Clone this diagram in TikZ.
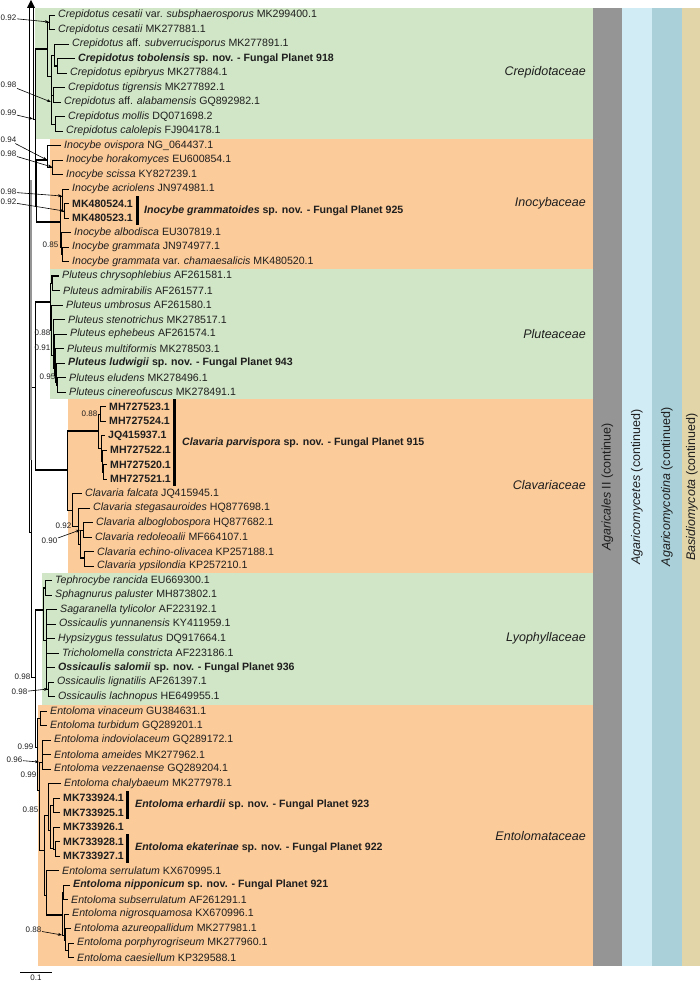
\documentclass[tikz,border=0pt]{standalone}
\usepackage{fontspec}
\setmainfont{Liberation Sans}
\usetikzlibrary{positioning,arrows.meta}
\definecolor{famgreen}{RGB}{209,230,198}
\definecolor{famorange}{RGB}{252,203,154}
\definecolor{ordgray}{RGB}{149,149,149}
\definecolor{clsblue}{RGB}{210,236,246}
\definecolor{subblue}{RGB}{170,209,218}
\definecolor{phytan}{RGB}{226,213,168}
\definecolor{ink}{RGB}{30,30,30}
\tikzset{
  tip/.style={anchor=west,inner xsep=3.5pt,inner ysep=0pt,text=ink,font=\fontsize{10.6}{12}\selectfont},
  newsp/.style={anchor=west,inner sep=0pt,text=ink,font=\fontsize{10.6}{12}\selectfont\bfseries},
  fam/.style={anchor=east,inner sep=0pt,text=ink,font=\fontsize{12.5}{14}\selectfont\itshape},
  rank/.style={rotate=90,inner sep=0pt,text=ink,font=\fontsize{12.5}{14}\selectfont},
  pp/.style={inner sep=0.5pt,text=ink,font=\fontsize{8}{9}\selectfont},
  br/.style={line width=0.6pt},
  bt/.style={line width=2.4pt},
  bg/.style={line width=2.4pt,ordgray},
  pparrow/.style={-{Stealth[length=4pt,width=3pt]},line width=0.6pt},
}

\begin{document}
\begin{tikzpicture}[x=1pt,y=-1pt]
\useasboundingbox (0,0) rectangle (700,982);
% family backgrounds
\fill[famgreen] (35,8) rectangle (593,139);
\fill[famorange] (50,139) rectangle (593,269);
\fill[famgreen] (50,269) rectangle (593,399);
\fill[famorange] (68,399) rectangle (593,573);
\fill[famgreen] (42,573) rectangle (593,705);
\fill[famorange] (38,705) rectangle (593,966);
% rank bars
\fill[ordgray] (593,8) rectangle (622,966);
\fill[clsblue] (622,8) rectangle (652,966);
\fill[subblue] (652,8) rectangle (682,966);
\fill[phytan] (682,8) rectangle (700,966);
\node[rank] (agII) at (607.5,487) {\textit{Agaricales} II (continue)};
\node[rank] (agmy) at (637,487) {\textit{Agaricomycetes} (continued)};
\node[rank] (agmt) at (667,487) {\textit{Agaricomycotina} (continued)};
\node[rank] (basi) at (692,487) {\textit{Basidiomycota} (continued)};
% family names
\node[fam] (fcre) at (586,72) {Crepidotaceae};
\node[fam] (fino) at (586,203) {Inocybaceae};
\node[fam] (fplu) at (586,334) {Pluteaceae};
\node[fam] (fcla) at (586,485) {Clavariaceae};
\node[fam] (flyo) at (586,638) {Lyophyllaceae};
\node[fam] (fent) at (586,836) {Entolomataceae};

% tips
\node[tip] (t0) at (54.5,15) {\textit{Crepidotus cesatii} var. \textit{subsphaerosporus} MK299400.1};
\node[tip] (t1) at (54.5,29.5) {\textit{Crepidotus cesatii} MK277881.1};
\node[tip] (t2) at (68.5,44) {\textit{Crepidotus} aff. \textit{subverrucisporus} MK277891.1};
\node[tip] (t3) at (74.5,58.5) {\textbf{\textit{Crepidotus tobolensis} sp. nov. - Fungal Planet 918}};
\node[tip] (t4) at (66.5,73) {\textit{Crepidotus epibryus} MK277884.1};
\node[tip] (t5) at (64.5,87.5) {\textit{Crepidotus tigrensis} MK277892.1};
\node[tip] (t6) at (60.5,102) {\textit{Crepidotus} aff. \textit{alabamensis} GQ892982.1};
\node[tip] (t7) at (64.5,116.5) {\textit{Crepidotus mollis} DQ071698.2};
\node[tip] (t8) at (62.5,131) {\textit{Crepidotus calolepis} FJ904178.1};
\node[tip] (t9) at (60.5,145.5) {\textit{Inocybe ovispora} NG\_064437.1};
\node[tip] (t10) at (62.5,160) {\textit{Inocybe horakomyces} EU600854.1};
\node[tip] (t11) at (62.5,174.5) {\textit{Inocybe scissa} KY827239.1};
\node[tip] (t12) at (68.5,189) {\textit{Inocybe acriolens} JN974981.1};
\node[tip] (t13) at (68.5,203.5) {\textbf{MK480524.1}};
\node[tip] (t14) at (68.5,218) {\textbf{MK480523.1}};
\node[tip] (t15) at (70.5,232.5) {\textit{Inocybe albodisca} EU307819.1};
\node[tip] (t16) at (68.5,247) {\textit{Inocybe grammata} JN974977.1};
\node[tip] (t17) at (68.5,261.5) {\textit{Inocybe grammata} var. \textit{chamaesalicis} MK480520.1};
\node[tip] (t18) at (58.5,276) {\textit{Pluteus chrysophlebius} AF261581.1};
\node[tip] (t19) at (59.5,290.5) {\textit{Pluteus admirabilis} AF261577.1};
\node[tip] (t20) at (62.5,305) {\textit{Pluteus umbrosus} AF261580.1};
\node[tip] (t21) at (64.5,319.5) {\textit{Pluteus stenotrichus} MK278517.1};
\node[tip] (t22) at (66.5,334) {\textit{Pluteus ephebeus} AF261574.1};
\node[tip] (t23) at (63.5,348.5) {\textit{Pluteus multiformis} MK278503.1};
\node[tip] (t24) at (64.5,363) {\textbf{\textit{Pluteus ludwigii} sp. nov. - Fungal Planet 943}};
\node[tip] (t25) at (65.5,377.5) {\textit{Pluteus eludens} MK278496.1};
\node[tip] (t26) at (65.5,392) {\textit{Pluteus cinereofuscus} MK278491.1};
\node[tip] (t27) at (105.5,406.5) {\textbf{MH727523.1}};
\node[tip] (t28) at (105.5,421) {\textbf{MH727524.1}};
\node[tip] (t29) at (104.5,435.5) {\textbf{JQ415937.1}};
\node[tip] (t30) at (106.5,450) {\textbf{MH727522.1}};
\node[tip] (t31) at (106.5,464.5) {\textbf{MH727520.1}};
\node[tip] (t32) at (106.5,479) {\textbf{MH727521.1}};
\node[tip] (t33) at (81.5,493.5) {\textit{Clavaria falcata} JQ415945.1};
\node[tip] (t34) at (89.5,508) {\textit{Clavaria stegasauroides} HQ877698.1};
\node[tip] (t35) at (92.5,522.5) {\textit{Clavaria alboglobospora} HQ877682.1};
\node[tip] (t36) at (91.5,537) {\textit{Clavaria redoleoalii} MF664107.1};
\node[tip] (t37) at (93.5,551.5) {\textit{Clavaria echino-olivacea} KP257188.1};
\node[tip] (t38) at (93.5,566) {\textit{Clavaria ypsilondia} KP257210.1};
\node[tip] (t39) at (51.5,580.5) {\textit{Tephrocybe rancida} EU669300.1};
\node[tip] (t40) at (51.5,595) {\textit{Sphagnurus paluster} MH873802.1};
\node[tip] (t41) at (56.5,609.5) {\textit{Sagaranella tylicolor} AF223192.1};
\node[tip] (t42) at (55.5,624) {\textit{Ossicaulis yunnanensis} KY411959.1};
\node[tip] (t43) at (54.5,638.5) {\textit{Hypsizygus tessulatus} DQ917664.1};
\node[tip] (t44) at (58.5,653) {\textit{Tricholomella constricta} AF223186.1};
\node[tip] (t45) at (54.5,667.5) {\textbf{\textit{Ossicaulis salomii} sp. nov. - Fungal Planet 936}};
\node[tip] (t46) at (53.5,682) {\textit{Ossicaulis lignatilis} AF261397.1};
\node[tip] (t47) at (54.5,696.5) {\textit{Ossicaulis lachnopus} HE649955.1};
\node[tip] (t48) at (46.5,711) {\textit{Entoloma vinaceum} GU384631.1};
\node[tip] (t49) at (46.5,725.5) {\textit{Entoloma turbidum} GQ289201.1};
\node[tip] (t50) at (50.5,740) {\textit{Entoloma indoviolaceum} GQ289172.1};
\node[tip] (t51) at (50.5,754.5) {\textit{Entoloma ameides} MK277962.1};
\node[tip] (t52) at (50.5,769) {\textit{Entoloma vezzenaense} GQ289204.1};
\node[tip] (t53) at (60.5,783.5) {\textit{Entoloma chalybaeum} MK277978.1};
\node[tip] (t54) at (59.5,798) {\textbf{MK733924.1}};
\node[tip] (t55) at (59.5,812.5) {\textbf{MK733925.1}};
\node[tip] (t56) at (59.5,827) {\textbf{MK733926.1}};
\node[tip] (t57) at (59.5,841.5) {\textbf{MK733928.1}};
\node[tip] (t58) at (59.5,856) {\textbf{MK733927.1}};
\node[tip] (t59) at (58.5,870.5) {\textit{Entoloma serrulatum} KX670995.1};
\node[tip] (t60) at (69.5,885) {\textbf{\textit{Entoloma nipponicum} sp. nov. - Fungal Planet 921}};
\node[tip] (t61) at (67.5,899.5) {\textit{Entoloma subserrulatum} AF261291.1};
\node[tip] (t62) at (68.5,914) {\textit{Entoloma nigrosquamosa} KX670996.1};
\node[tip] (t63) at (70.5,928.5) {\textit{Entoloma azureopallidum} MK277981.1};
\node[tip] (t64) at (73.5,943) {\textit{Entoloma porphyrogriseum} MK277960.1};
\node[tip] (t65) at (73.5,957.5) {\textit{Entoloma caesiellum} KP329588.1};

% new species bars
\draw[line width=3pt] (137,196) -- (137,225);
\node[newsp] (g925) at (144,211) {\textit{Inocybe grammatoides} sp. nov. - Fungal Planet 925};
\draw[line width=3pt] (174,399) -- (174,486);
\node[newsp] (c915) at (182,443) {\textit{Clavaria parvispora} sp. nov. - Fungal Planet 915};
\draw[line width=3pt] (127,791) -- (127,819);
\node[newsp] (e923) at (135,805) {\textit{Entoloma erhardii} sp. nov. - Fungal Planet 923};
\draw[line width=3pt] (127,834) -- (127,863);
\node[newsp] (e922) at (135,848) {\textit{Entoloma ekaterinae} sp. nov. - Fungal Planet 922};

% backbone
\fill (31,0) -- (27,8) -- (35,8) -- cycle;
\coordinate (rl) at (29,6);
\coordinate (rr) at (33,6);
\coordinate (nCI) at (35,119);
\coordinate (nBig) at (31,532);
\coordinate (nPC) at (35,387);
\coordinate (nLE) at (35,677);
\draw[br] (rr) |- (nCI);
\draw[br] (rl) |- (nBig);
\draw[br] (nBig) |- (nPC);
\draw[br] (nBig) |- (nLE);
\draw[bg] (31,180) -- (31,460);

% Crepidotaceae
\coordinate (cA) at (47,49);
\coordinate (cB) at (49,22);
\coordinate (cC) at (51,76);
\coordinate (cD) at (54,55);
\coordinate (cF) at (57,66);
\coordinate (cE) at (51,102);
\coordinate (cG) at (53,95);
\coordinate (cH) at (55,124);
\draw[br] (nCI) |- (cA);
\draw[bt] (cA -| nCI) -- (cA);
\draw[br] (cA) |- (cB);
\draw[br] (cA) |- (cC);
\draw[br] (cB) |- (t0.west);
\draw[br] (cB) |- (t1.west);
\draw[br] (cC) |- (cD);
\draw[br] (cC) |- (cE);
\draw[br] (cD) |- (t2.west);
\draw[br] (cD) |- (cF);
\draw[bt] (cF -| cD) -- (cF);
\draw[br] (cF) |- (t3.west);
\draw[br] (cF) |- (t4.west);
\draw[br] (cE) |- (cG);
\draw[br] (cE) |- (cH);
\draw[br] (cG) |- (t5.west);
\draw[br] (cG) |- (t6.west);
\draw[br] (cH) |- (t7.west);
\draw[br] (cH) |- (t8.west);

% Inocybaceae
\coordinate (iA) at (36,206);
\coordinate (iB) at (47,160);
\coordinate (iD) at (52,167);
\coordinate (iC) at (60,222);
\coordinate (iE) at (62,196);
\coordinate (iF) at (64,211);
\coordinate (iG) at (61,247);
\coordinate (iH) at (62,254);
\draw[br] (nCI) |- (iA);
\draw[br] (iA) |- (iB);
\draw[bt] (iB -| iA) -- (iB);
\draw[br] (iA) |- (iC);
\draw[bt] (iC -| iA) -- (iC);
\draw[br] (iB) |- (t9.west);
\draw[br] (iB) |- (iD);
\draw[br] (iD) |- (t10.west);
\draw[br] (iD) |- (t11.west);
\draw[br] (iC) |- (iE);
\draw[br] (iC) |- (iG);
\draw[br] (iE) |- (t12.west);
\draw[br] (iE) |- (iF);
\draw[br] (iF) |- (t13.west);
\draw[br] (iF) |- (t14.west);
\draw[br] (iG) |- (t15.west);
\draw[br] (iG) |- (iH);
\draw[br] (iH) |- (t16.west);
\draw[br] (iH) |- (t17.west);

% Pluteaceae
\coordinate (pA) at (50,302);
\coordinate (pB) at (52,283);
\coordinate (pC) at (51,330);
\coordinate (pD) at (53,355);
\coordinate (pE) at (54,368);
\coordinate (pF) at (55,375);
\coordinate (pG) at (56,382);
\coordinate (pH) at (57,385);
\draw[br] (nPC) |- (pA);
\draw[bt] (pA -| nPC) -- (pA);
\draw[br] (pA) |- (pB);
\draw[br] (pA) |- (pC);
\draw[bt] (pB) |- (t18.west);
\draw[br] (pB) |- (t19.west);
\draw[br] (pC) |- (t20.west);
\draw[br] (pC) |- (pD);
\draw[br] (pD) |- (t21.west);
\draw[br] (pD) |- (pE);
\draw[br] (pE) |- (t22.west);
\draw[br] (pE) |- (pF);
\draw[br] (pF) |- (t23.west);
\draw[br] (pF) |- (pG);
\draw[br] (pG) |- (t24.west);
\draw[br] (pG) |- (pH);
\draw[br] (pH) |- (t25.west);
\draw[br] (pH) |- (t26.west);

% Clavariaceae
\coordinate (kA) at (67,470);
\coordinate (kB) at (98,431);
\coordinate (kD) at (100,414);
\coordinate (kE) at (101,448);
\coordinate (kF) at (102,461);
\coordinate (kG) at (103,472);
\coordinate (kC) at (72,510);
\coordinate (kH) at (78,526);
\coordinate (kI) at (80,544);
\coordinate (kJ) at (83,530);
\coordinate (kK) at (84,558);
\draw[br] (nPC) |- (kA);
\draw[bt] (kA -| nPC) -- (kA);
\draw[br] (kA) |- (kB);
\draw[bt] (kB -| kA) -- (kB);
\draw[br] (kA) |- (kC);
\draw[br] (kB) |- (kD);
\draw[br] (kB) |- (kE);
\draw[br] (kD) |- (t27.west);
\draw[br] (kD) |- (t28.west);
\draw[br] (kE) |- (t29.west);
\draw[br] (kE) |- (kF);
\draw[br] (kF) |- (t30.west);
\draw[br] (kF) |- (kG);
\draw[br] (kG) |- (t31.west);
\draw[br] (kG) |- (t32.west);
\draw[br] (kC) |- (t33.west);
\draw[br] (kC) |- (kH);
\draw[br] (kH) |- (t34.west);
\draw[br] (kH) |- (kI);
\draw[br] (kI) |- (kJ);
\draw[br] (kI) |- (kK);
\draw[bt] (kK -| kI) -- (kK);
\draw[br] (kJ) |- (t35.west);
\draw[br] (kJ) |- (t36.west);
\draw[br] (kK) |- (t37.west);
\draw[br] (kK) |- (t38.west);

% Lyophyllaceae
\coordinate (lA) at (43,610);
\coordinate (lB) at (45,588);
\coordinate (lC) at (46,640);
\coordinate (lD) at (48,689);
\draw[br] (nLE) |- (lA);
\draw[bt] (lA -| nLE) -- (lA);
\draw[br] (lA) |- (lB);
\draw[bt] (lB -| lA) -- (lB);
\draw[br] (lA) |- (lC);
\draw[br] (lB) |- (t39.west);
\draw[br] (lB) |- (t40.west);
\draw[br] (lC) |- (t41.west);
\draw[br] (lC) |- (t42.west);
\draw[br] (lC) |- (t43.west);
\draw[br] (lC) |- (t44.west);
\draw[br] (lC) |- (t45.west);
\draw[br] (lC) |- (lD);
\draw[br] (lD) |- (t46.west);
\draw[br] (lD) |- (t47.west);

% Entolomataceae
\coordinate (eA) at (37,747);
\coordinate (eB) at (40,718);
\coordinate (eC) at (39,790);
\coordinate (eD) at (42,762);
\coordinate (eE) at (44,850);
\coordinate (eF) at (48,815);
\coordinate (eG) at (50,830);
\coordinate (eH) at (53,805);
\coordinate (eI) at (53,848);
\coordinate (eI2) at (55,849);
\coordinate (eE2) at (46,895);
\coordinate (eJ) at (62,915);
\coordinate (eK) at (63,892);
\coordinate (eL) at (64,935);
\coordinate (eL2) at (65,940);
\coordinate (eM) at (68,950);
\draw[br] (nLE) |- (eA);
\draw[br] (eA) |- (eB);
\draw[br] (eA) |- (eC);
\draw[br] (eB) |- (t48.west);
\draw[br] (eB) |- (t49.west);
\draw[br] (eC) |- (eD);
\draw[br] (eC) |- (eE);
\draw[br] (eD) |- (t50.west);
\draw[br] (eD) |- (t51.west);
\draw[br] (eD) |- (t52.west);
\draw[br] (eE) |- (eF);
\draw[br] (eE) |- (eE2);
\draw[br] (eF) |- (t53.west);
\draw[br] (eF) |- (eG);
\draw[br] (eG) |- (eH);
\draw[br] (eG) |- (eI);
\draw[br] (eH) |- (t54.west);
\draw[br] (eH) |- (t55.west);
\draw[br] (eI) |- (t56.west);
\draw[br] (eI) |- (eI2);
\draw[br] (eI2) |- (t57.west);
\draw[br] (eI2) |- (t58.west);
\draw[br] (eE2) |- (t59.west);
\draw[br] (eE2) |- (eJ);
\draw[bt] (eJ -| eE2) -- (eJ);
\draw[br] (eJ) |- (eK);
\draw[br] (eJ) |- (eL);
\draw[br] (eK) |- (t60.west);
\draw[br] (eK) |- (t61.west);
\draw[br] (eL) |- (t62.west);
\draw[br] (eL) |- (eL2);
\draw[br] (eL2) |- (t63.west);
\draw[br] (eL2) |- (eM);
\draw[br] (eM) |- (t64.west);
\draw[br] (eM) |- (t65.west);

% posterior probabilities
\node[pp,anchor=west] (s1) at (0,18) {0.92};
\draw[pparrow] (s1) -- (cB);
\node[pp,anchor=west] (s2) at (0,85) {0.98};
\draw[pparrow] (s2) -- (cE);
\node[pp,anchor=west] (s3) at (0,113) {0.99};
\draw[pparrow] (s3) -- (nCI -| rr);
\node[pp,anchor=west] (s4) at (0,140) {0.94};
\draw[pparrow] (s4) -- (iB);
\node[pp,anchor=west] (s5) at (0,154) {0.98};
\draw[pparrow] (s5) -- (iD);
\node[pp,anchor=west] (s6) at (0,192) {0.98};
\draw[pparrow] (s6) -- (iE);
\node[pp,anchor=west] (s7) at (0,202) {0.92};
\draw[pparrow] (s7) -- (iF);
\node[pp,anchor=east] (s8) at (59,245) {0.85};
\node[pp,anchor=east] (s9) at (51,333) {0.88};
\node[pp,anchor=east] (s10) at (51,348) {0.91};
\node[pp,anchor=east] (s11) at (56,377) {0.95};
\node[pp,anchor=east] (s12) at (98,414) {0.88};
\node[pp,anchor=east] (s13) at (72,526) {0.92};
\node[pp,anchor=east] (s14) at (58,541) {0.90};
\draw[pparrow] (s14) -- (kJ -| kI);
\node[pp,anchor=east] (s15) at (31,677) {0.98};
\node[pp,anchor=east] (s16) at (28,692) {0.98};
\draw[pparrow] (s16) -- (lD);
\node[pp,anchor=east] (s17) at (34,747) {0.99};
\node[pp,anchor=east] (s18) at (23,760) {0.96};
\draw[pparrow] (s18) -- (eD -| eC);
\node[pp,anchor=east] (s19) at (37,775) {0.99};
\node[pp,anchor=east] (s20) at (39,810) {0.85};
\node[pp,anchor=east] (s21) at (42,930) {0.88};
\draw[pparrow] (s21) -- (eL -| eJ);

% scale bar
\coordinate (sb0) at (20,972);
\coordinate (sb1) at (52,972);
\draw[br] (sb0) -- (sb1);
\node[pp,anchor=north] (sbl) at (36,974) {0.1};
\end{tikzpicture}
\end{document}
